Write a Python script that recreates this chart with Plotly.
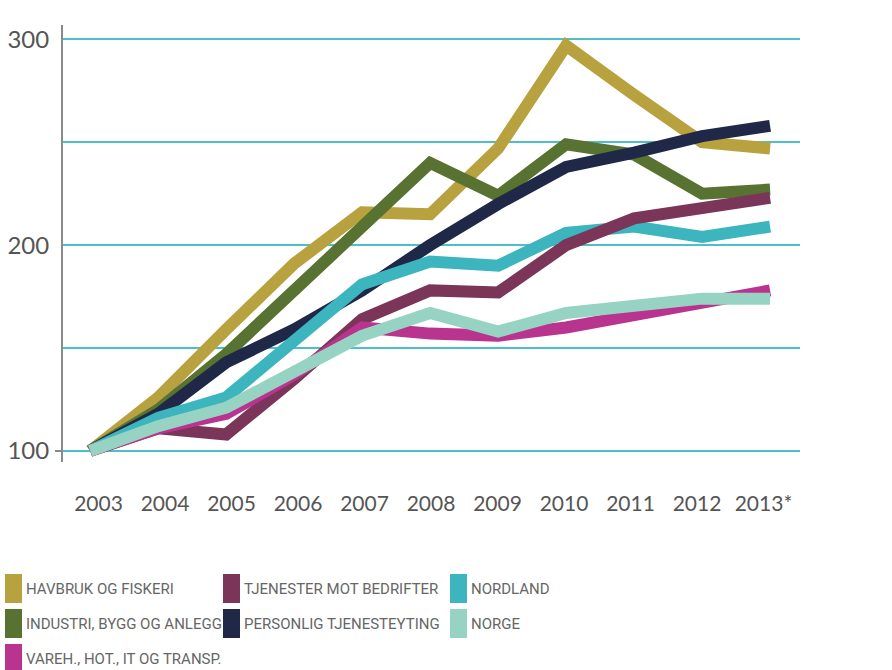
import plotly.graph_objects as go

years = ["2003", "2004", "2005", "2006", "2007", "2008", "2009", "2010", "2011", "2012", "2013*"]

havbruk =    [100, 126, 159, 191, 216, 215, 247, 297, 273, 250, 247]
industri =   [100, 120, 147, 178, 208, 240, 224, 249, 244, 225, 227]
personlig =  [100, 118, 143, 159, 178, 200, 220, 238, 245, 253, 258]
nordland =   [100, 116, 126, 153, 181, 192, 190, 206, 209, 204, 209]
tjenester =  [100, 111, 108, 135, 164, 178, 177, 200, 213, 218, 223]
vareh =      [100, 111, 118, 137, 160, 157, 156, 160, 166, 172, 178]
norge =      [100, 112, 121, 139, 156, 167, 158, 167, 170, 174, 174]

names = ["HAVBRUK OG FISKERI", "INDUSTRI, BYGG OG ANLEGG", "PERSONLIG TJENESTEYTING",
         "NORDLAND", "TJENESTER MOT BEDRIFTER", "VAREH., HOT., IT OG TRANSP.", "NORGE"]
series = [havbruk, industri, personlig, nordland, tjenester, vareh, norge]
colors = ["#B8A13F", "#587232", "#1F2847", "#3DB5BE", "#7A3558", "#B9348E", "#97D3C2"]

y_ticks = [100, 150, 200, 250, 300]
y_ticktext = ["100", "", "200", "", "300"]

W, H = 892, 670
L, R, T, B = 63, 92, 25, 208
pw, ph = W - L - R, H - T - B

def px_x(px):
    return (px - L) / pw

def px_y(py):
    return (H - B - py) / ph

fig = go.Figure()
for name, vals, col in zip(names, series, colors):
    fig.add_trace(go.Scatter(x=years, y=vals, mode="lines", name=name,
                             line=dict(color=col, width=12), showlegend=False,
                             hoverinfo="skip"))

# empty helper trace so the year-label axis is drawn
fig.add_trace(go.Scatter(x=list(range(len(years))), y=[None] * len(years),
                         xaxis="x2", yaxis="y", mode="lines", showlegend=False,
                         hoverinfo="skip"))

# gray baseline at 100 with small tick
fig.add_shape(type="line", xref="paper", yref="y", x0=px_x(55), x1=1, y0=100, y1=100,
              line=dict(color="#8a8a8a", width=2), layer="below")

# manual legend (3 columns)
legend_layout = [
    ("HAVBRUK OG FISKERI", 0, 0), ("TJENESTER MOT BEDRIFTER", 1, 0), ("NORDLAND", 2, 0),
    ("INDUSTRI, BYGG OG ANLEGG", 0, 1), ("PERSONLIG TJENESTEYTING", 1, 1), ("NORGE", 2, 1),
    ("VAREH., HOT., IT OG TRANSP.", 0, 2),
]
col_x = [5, 223, 450]
row_top = [574, 609, 644]
for name, c, r in legend_layout:
    col = colors[names.index(name)]
    x0 = col_x[c]
    y0 = row_top[r]
    fig.add_shape(type="rect", xref="paper", yref="paper",
                  x0=px_x(x0), x1=px_x(x0 + 17), y0=px_y(y0 + 29), y1=px_y(y0),
                  fillcolor=col, line=dict(width=0))
    fig.add_annotation(xref="paper", yref="paper", x=px_x(x0 + 19), y=px_y(y0 + 15),
                       text=name, showarrow=False, xanchor="left", yanchor="middle",
                       font=dict(family="Roboto", size=15, color="#666666"))

# label axis (year labels sit slightly tighter than the data points)
lab_left, lab_step = 98.5, 66.5
fig.update_layout(
    xaxis2=dict(overlaying="x", side="bottom", anchor="y",
                range=[(L - lab_left) / lab_step, (W - R - lab_left) / lab_step],
                tickmode="array", tickvals=list(range(len(years))), ticktext=years,
                showgrid=False, showline=False, zeroline=False, automargin=False,
                ticks="", tickfont=dict(family="Lato", size=21, color="#555555"),
                ticklabelstandoff=27),
)

fig.update_layout(
    width=W, height=H,
    margin=dict(l=L, r=R, t=T, b=B, autoexpand=False),
    plot_bgcolor="white", paper_bgcolor="white",
    showlegend=False,
    xaxis=dict(range=[-0.4, 10.44], showgrid=False, showline=False, zeroline=False,
               automargin=False, showticklabels=False, ticks=""),
    yaxis=dict(range=[94.6, 307], tickvals=y_ticks, ticktext=y_ticktext,
               automargin=False,
               showgrid=True, gridcolor="#4DBFC7", gridwidth=1.5,
               showline=True, linecolor="#8a8a8a", linewidth=2, zeroline=False,
               ticks="", tickfont=dict(family="Lato", size=24, color="#555555"),
               ticklabelstandoff=7),
)

fig.write_html("out.html", config={"displayModeBar": False},
               post_script="document.body.style.margin='0';")
